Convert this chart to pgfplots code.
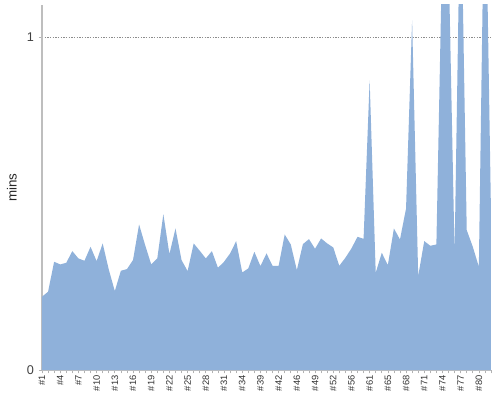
\documentclass[border=0pt]{standalone}
\usepackage{fontspec}
\setmainfont{Liberation Sans}
\usepackage{pgfplots}
\usepackage{pgfplotstable}
\pgfplotsset{compat=1.18}
\definecolor{areablue}{RGB}{143,177,218}
\definecolor{axisgray}{RGB}{190,190,190}

\pgfplotstableread{
x y
0 0.220
1 0.235
2 0.325
3 0.317
4 0.322
5 0.357
6 0.335
7 0.328
8 0.370
9 0.327
10 0.380
11 0.302
12 0.237
13 0.298
14 0.303
15 0.330
16 0.437
17 0.375
18 0.317
19 0.335
20 0.468
21 0.348
22 0.425
23 0.330
24 0.297
25 0.380
26 0.358
27 0.335
28 0.357
29 0.307
30 0.325
31 0.350
32 0.387
33 0.293
34 0.305
35 0.355
36 0.312
37 0.350
38 0.313
39 0.313
40 0.407
41 0.377
42 0.300
43 0.378
44 0.393
45 0.364
46 0.395
47 0.380
48 0.368
49 0.313
50 0.337
51 0.365
52 0.400
53 0.394
54 0.870
55 0.292
56 0.352
57 0.315
58 0.425
59 0.392
60 0.485
61 1.050
62 0.282
63 0.387
64 0.373
65 0.377
66 1.300
67 1.250
68 0.350
69 1.500
70 0.420
71 0.370
72 0.310
73 1.600
74 0.470
}\mins

\begin{document}
\begin{tikzpicture}
\path[use as bounding box] (-31.5pt,-22.5pt) rectangle (343.5pt,277.5pt);
\begin{axis}[
    scale only axis,
    width=336.75pt,
    height=273.75pt,
    xmin=0, xmax=74,
    ymin=0, ymax=1.096,
    axis x line*=bottom,
    axis y line*=left,
    axis line style={axisgray, line width=0.9pt},
    tick align=outside,
    major tick length=2.5pt,
    minor tick length=2.5pt,
    tick style={gray!60, line width=0.5pt},
    xtick={0,3,...,72},
    minor xtick={0,1,...,74},
    xticklabels={\#1,\#4,\#7,\#10,\#13,\#16,\#19,\#22,\#25,\#28,\#31,\#34,\#39,\#42,\#46,\#49,\#52,\#56,\#61,\#65,\#68,\#71,\#74,\#77,\#80},
    xticklabel style={rotate=90, anchor=east, font=\fontsize{7}{8}\selectfont, text=black!80, inner sep=1.5pt},
    ytick={0,1},
    yticklabel style={font=\fontsize{9.5}{11}\selectfont, text=black!75},
    /pgf/number format/assume math mode=true,
    ymajorgrids,
    major grid style={gray!90, line width=0.5pt, dash pattern=on 1.1pt off 0.9pt},
    ylabel={mins},
    every axis y label/.style={at={(axis description cs:-0.067,0.5)}, rotate=90, anchor=center, font=\fontsize{10}{12}\selectfont, text=black!85},
]
\addplot[fill=areablue, draw=none] table[x=x, y=y] {\mins} \closedcycle;
\end{axis}
\end{tikzpicture}
\end{document}
